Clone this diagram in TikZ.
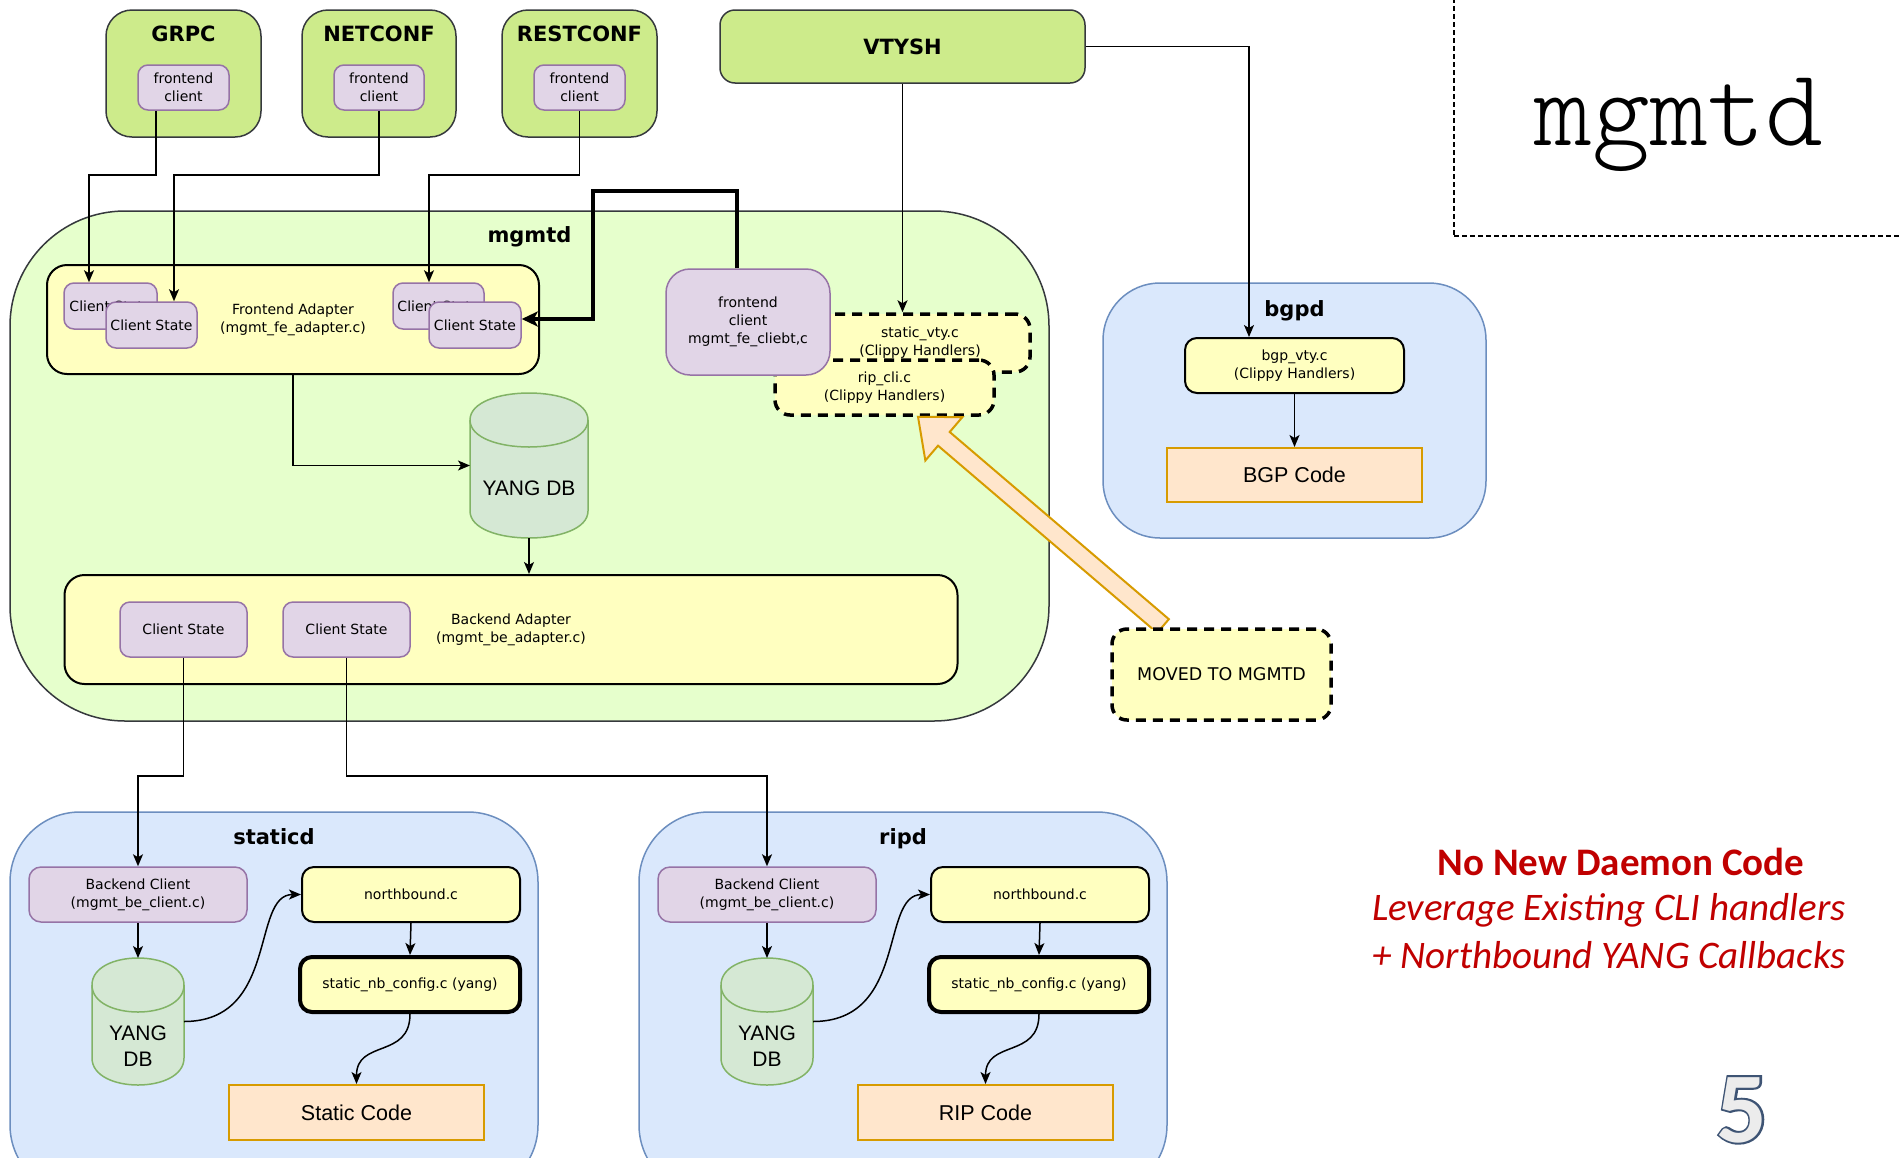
\documentclass[tikz,border=0pt]{standalone}
\usepackage{fontspec}
\setmainfont{DejaVu Sans}
\newfontfamily\lsans{Liberation Sans}
\newfontfamily\carl{Carlito}
\newfontfamily\carlfb[FakeBold=4]{Carlito}
\usetikzlibrary{arrows.meta,calc}
\definecolor{cgreen}{HTML}{CDEB8B}
\definecolor{cdark}{HTML}{36393D}
\definecolor{cmg}{HTML}{E6FFCC}
\definecolor{cyel}{HTML}{FFFFC0}
\definecolor{cpurp}{HTML}{E1D5E7}
\definecolor{cpurpd}{HTML}{9673A6}
\definecolor{cblue}{HTML}{DAE8FC}
\definecolor{cblued}{HTML}{6C8EBF}
\definecolor{corg}{HTML}{FFE6CC}
\definecolor{corgd}{HTML}{D79B00}
\definecolor{ccyl}{HTML}{D5E8D4}
\definecolor{ccyld}{HTML}{82B366}
\definecolor{cred}{HTML}{C00000}
\definecolor{cfiveo}{HTML}{3E5474}
\definecolor{cfivef}{HTML}{ECECEC}
\newcommand{\smf}{\fontsize{14}{18}\selectfont}
\newcommand{\hdf}{\fontsize{21}{25}\selectfont\bfseries}
\newcommand{\bgf}{\lsans\fontsize{21.5}{26}\selectfont}
\newcommand{\boxat}[7]{%
  \pgfmathsetmacro{\bxw}{#5-#3}%
  \pgfmathsetmacro{\bxh}{#6-#4}%
  \pgfmathsetmacro{\bxx}{(#3+#5)/2}%
  \pgfmathsetmacro{\bxy}{(#4+#6)/2}%
  \node[#1, minimum width=\bxw pt, minimum height=\bxh pt, inner sep=0pt, align=center] (#2) at (\bxx,\bxy) {#7};}
\newcommand{\cylat}[8]{%
  \pgfmathsetmacro{\cya}{#3+#6}%
  \pgfmathsetmacro{\cyb}{#5-#6}%
  \pgfmathsetmacro{\cyk}{#6*4/3}%
  \pgfmathsetmacro{\cyw}{#4-#2}%
  \pgfmathsetmacro{\cyh}{#5-#3}%
  \pgfmathsetmacro{\cyx}{(#2+#4)/2}%
  \pgfmathsetmacro{\cyy}{(#3+#5)/2}%
  \filldraw[cylst] (#2,\cya) -- (#2,\cyb) .. controls (#2,\cyb+\cyk) and (#4,\cyb+\cyk) .. (#4,\cyb) -- (#4,\cya) .. controls (#4,\cya-\cyk) and (#2,\cya-\cyk) .. (#2,\cya) -- cycle;
  \draw[cylst] (#2,\cya) .. controls (#2,\cya+\cyk) and (#4,\cya+\cyk) .. (#4,\cya);
  \node[minimum width=\cyw pt, minimum height=\cyh pt, inner sep=0pt, outer sep=0pt] (#1) at (\cyx,\cyy) {};
  \node[font=\lsans\fontsize{21}{26}\selectfont, align=center] (#1t) at (\cyx,#7) {#8};}
\begin{document}
\begin{tikzpicture}[x=1pt,y=-1pt,
  grn/.style={fill=cgreen, draw=cdark, line width=1.5pt},
  purp/.style={fill=cpurp, draw=cpurpd, line width=1.5pt},
  yel/.style={fill=cyel, draw=black, line width=2pt},
  yelthick/.style={fill=cyel, draw=black, line width=4pt},
  dsh/.style={fill=cyel, draw=black, line width=3.5pt, dash pattern=on 10pt off 7pt},
  blu/.style={fill=cblue, draw=cblued, line width=1.5pt},
  org/.style={fill=corg, draw=corgd, line width=2pt},
  cylst/.style={fill=ccyl, draw=ccyld, line width=1.5pt},
  hdr/.style={anchor=base, font=\hdf},
  arr/.style={-{Stealth[length=12pt,width=10pt,inset=3pt]}, line width=1.5pt},
  tarr/.style={-{Stealth[length=16pt,width=15pt,inset=4pt]}, line width=4pt},
  redtxt/.style={anchor=base, text=cred, inner sep=1pt},
]
\clip (0,0) rectangle (1902,1157);
\fill[white] (0,0) rectangle (1902,1157);

% top right title
\boxat{draw=black, line width=1.5pt, dash pattern=on 5pt off 3pt}{mgbox}{1454}{-20}{1925}{236}{}
\node[anchor=base, font=\ttfamily\fontseries{l}\selectfont\fontsize{110}{110}\selectfont] (mgtitle) at (1679,145) {mgmtd};

% northbound clients
\boxat{grn, rounded corners=26pt}{grpc}{106}{10}{261}{137}{}
\node[hdr] (grpct) at (183.5,41.5) {GRPC};
\boxat{purp, rounded corners=10pt, font=\smf}{grpcfc}{138}{65}{229}{110}{frontend\\client}
\boxat{grn, rounded corners=26pt}{netconf}{302}{10}{456}{137}{}
\node[hdr] (netconft) at (379,41.5) {NETCONF};
\boxat{purp, rounded corners=10pt, font=\smf}{netfc}{334}{65}{424}{110}{frontend\\client}
\boxat{grn, rounded corners=26pt}{restconf}{502}{10}{657}{137}{}
\node[hdr] (restconft) at (579.5,41.5) {RESTCONF};
\boxat{purp, rounded corners=10pt, font=\smf}{restfc}{534}{65}{625}{110}{frontend\\client}
\boxat{grn, rounded corners=15pt, font=\hdf}{vtysh}{720}{10}{1085}{83}{VTYSH}

% mgmtd container
\boxat{fill=cmg, draw=cdark, line width=1.5pt, rounded corners=115pt}{mgmtd}{10}{211}{1049}{721}{}
\node[hdr] (mgmtdt) at (529.5,242) {mgmtd};

\boxat{yel, rounded corners=20pt, font=\smf}{fa}{47}{265}{539}{374}{Frontend Adapter\\(mgmt\_fe\_adapter.c)}
\boxat{purp, rounded corners=10pt, font=\smf}{cl1b}{64}{283}{157}{329}{Client State}
\boxat{purp, rounded corners=10pt, font=\smf}{cs1f}{106}{302}{197}{348}{Client State}
\boxat{purp, rounded corners=10pt, font=\smf}{cl2b}{393}{283}{484}{329}{Client State}
\boxat{purp, rounded corners=10pt, font=\smf}{cs2f}{429}{302}{521}{348}{Client State}

\boxat{dsh, rounded corners=15pt, font=\smf}{svty}{810}{314}{1030}{372}{static\_vty.c\\(Clippy Handlers)}
\boxat{dsh, rounded corners=15pt, font=\smf}{ripcli}{775}{360}{994}{415}{rip\_cli.c\\(Clippy Handlers)}
\boxat{purp, rounded corners=24pt, font=\smf}{fecl}{666}{269}{830}{375}{frontend\\client\\mgmt\_fe\_cliebt,c}

\cylat{ydb}{470}{393}{588}{538}{27}{488}{YANG DB}

\boxat{yel, rounded corners=20pt, font=\smf}{ba}{64.5}{575}{957.5}{684}{Backend Adapter\\(mgmt\_be\_adapter.c)}
\boxat{purp, rounded corners=10pt, font=\smf}{bcs1}{120}{602}{247}{657}{Client State}
\boxat{purp, rounded corners=10pt, font=\smf}{bcs2}{283}{602}{410}{657}{Client State}

% bgpd
\boxat{blu, rounded corners=57pt}{bgpd}{1103}{283}{1486}{538}{}
\node[hdr] (bgpdt) at (1294.5,316) {bgpd};
\boxat{yel, rounded corners=12pt, font=\smf}{bgpvty}{1185}{338}{1404}{393}{bgp\_vty.c\\(Clippy Handlers)}
\boxat{org, font=\bgf}{bgpcode}{1167}{448}{1422}{502}{BGP Code}

% block arrow and moved box
\coordinate (arP) at ($(ripcli.south)+(33.5,0)$);
\coordinate (arT) at (1163,626);
\coordinate (arB) at ($(arP)!34pt!(arT)$);
\filldraw[fill=corg, draw=corgd, line width=2pt, line join=miter]
  (arP) -- ($(arB)!28.5pt!90:(arP)$) -- ($(arB)!9pt!90:(arP)$) -- ($(arT)!9pt!90:(arP)$)
  -- ($(arT)!9pt!-90:(arP)$) -- ($(arB)!9pt!-90:(arP)$) -- ($(arB)!28.5pt!-90:(arP)$) -- cycle;
\boxat{dsh, rounded corners=15pt, font=\fontsize{17.5}{20}\selectfont}{moved}{1112}{629}{1331}{720}{MOVED TO MGMTD}

% staticd
\boxat{blu, rounded corners=70pt}{staticd}{10}{812}{538}{1195}{}
\node[hdr] (staticdt) at (274,844) {staticd};
\boxat{purp, rounded corners=12pt, font=\smf}{sbc}{29}{867}{247}{922}{Backend Client\\(mgmt\_be\_client.c)}
\cylat{sydb}{92}{958}{184}{1085}{27}{1046}{YANG\\DB}
\boxat{yel, rounded corners=12pt, font=\smf}{snb}{302}{867}{520}{922}{northbound.c}
\boxat{yelthick, rounded corners=12pt, font=\smf}{snbc}{300}{957}{520}{1012}{static\_nb\_config.c (yang)}
\boxat{org, font=\bgf}{scode}{229}{1085}{484}{1140}{Static Code}

% ripd
\boxat{blu, rounded corners=70pt}{ripd}{639}{812}{1167}{1195}{}
\node[hdr] (ripdt) at (903,844) {ripd};
\boxat{purp, rounded corners=12pt, font=\smf}{rbc}{658}{867}{876}{922}{Backend Client\\(mgmt\_be\_client.c)}
\cylat{rydb}{721}{958}{813}{1085}{27}{1046}{YANG\\DB}
\boxat{yel, rounded corners=12pt, font=\smf}{rnb}{931}{867}{1149}{922}{northbound.c}
\boxat{yelthick, rounded corners=12pt, font=\smf}{rnbc}{929}{957}{1149}{1012}{static\_nb\_config.c (yang)}
\boxat{org, font=\bgf}{rcode}{858}{1085}{1113}{1140}{RIP Code}

% connectors
\draw[arr] ([xshift=-27.5pt]grpcfc.south) -- ++(0,64) -| ([xshift=-21.5pt]cl1b.north);
\draw[arr] (netfc.south) -- ++(0,64) -| ([xshift=22.5pt]cs1f.north);
\draw[arr] (restfc.south) -- ++(0,64) -| ([xshift=-9.5pt]cl2b.north);
\draw[tarr] ([xshift=-11pt]fecl.north) -- ++(0,-77) -- ++(-144,0) |- ([yshift=6pt]cs2f.east);
\draw[arr] (vtysh.south) -- (vtysh.south |- svty.north);
\draw[arr] (vtysh.east) -| ([xshift=-45.5pt]bgpvty.north);
\draw[arr] (bgpvty.south) -- (bgpcode.north);
\draw[arr] (fa.south) |- (ydb.west);
\draw[arr] (ydb.south) -- (ydb.south |- ba.north);
\draw[arr] (bcs1.south) -- ++(0,118) -| (sbc.north);
\draw[arr] (bcs2.south) -- ++(0,118) -| (rbc.north);
\draw[arr] (sbc.south) -- (sydb.north);
\draw[arr] (sydb.east) .. controls +(95,0) and +(-50,0) .. (snb.west);
\draw[arr] (snb.south) -- (snbc.north);
\draw[arr] (snbc.south) .. controls +(0,45) and +(0,-45) .. (scode.north);
\draw[arr] (rbc.south) -- (rydb.north);
\draw[arr] (rydb.east) .. controls +(95,0) and +(-50,0) .. (rnb.west);
\draw[arr] (rnb.south) -- (rnbc.north);
\draw[arr] (rnbc.south) .. controls +(0,45) and +(0,-45) .. (rcode.north);

% red text
\node[redtxt, font=\carl\bfseries\fontsize{39}{44}\selectfont] (rt1) at (1621,875) {No New Daemon Code};
\node[redtxt, font=\carl\itshape\fontsize{39}{44}\selectfont] (rt2) at (1609,920) {Leverage Existing CLI handlers};
\node[redtxt, font=\carl\itshape\fontsize{39}{44}\selectfont] (rt3) at (1609,968) {+ Northbound YANG Callbacks};

% page number
\node[anchor=base, text=cfiveo, font=\carlfb\bfseries\fontsize{100}{100}\selectfont] (five) at (1742,1142) {5};
\node[anchor=base, text=cfivef, font=\carl\bfseries\fontsize{100}{100}\selectfont] (fivef) at (1742,1142) {5};
\end{tikzpicture}
\end{document}
